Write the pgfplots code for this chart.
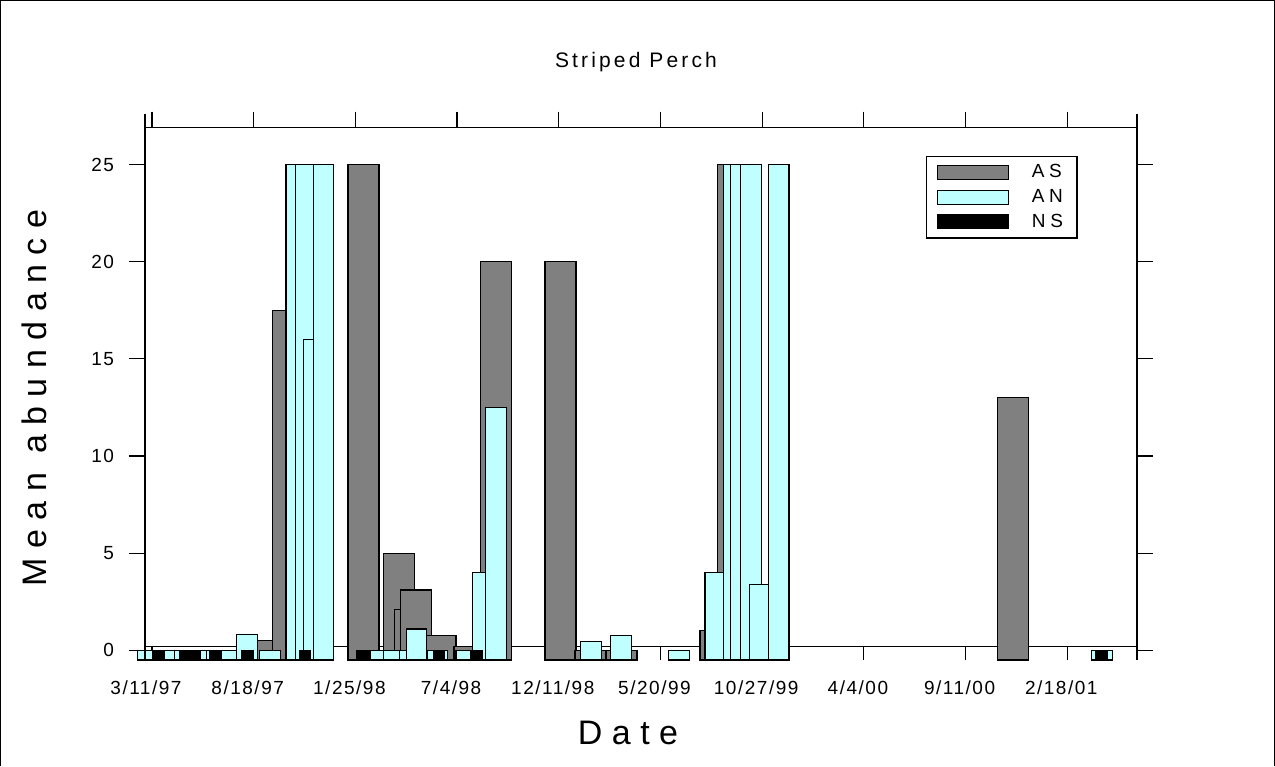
\documentclass[border=0pt]{standalone}
\usepackage{fontspec}
\setmainfont{Liberation Sans}
\newfontfamily\tickfont[LetterSpace=8]{Liberation Sans}
\newfontfamily\titlefont[LetterSpace=15]{Liberation Sans}
\newfontfamily\legfont[LetterSpace=25]{Liberation Sans}
\newfontfamily\labfont[LetterSpace=28]{Liberation Sans}
\usepackage{pgfplots}
\usepackage{pgfplotstable}
\pgfplotsset{compat=1.18}

\definecolor{asgray}{RGB}{128,128,128}
\definecolor{ancyan}{RGB}{192,255,255}

% x = days after 3/11/97, v = mean abundance
\pgfplotstableread{
d v
189.6 0.5
214.0 17.5
332.8 25
388.1 5
405.6 2.1
415.8 3.1
453.9 0.75
499.5 0.2
541.2 20
642.7 20
689.9 0
738.7 0
886.6 1.0
914.1 25
1354.6 13
}\AS

\pgfplotstableread{
d v
-6.3 0
36.2 0
51.9 0
91.3 0
102.3 0
125.9 0
149.5 0.8
185.7 0
226.9 25
242.3 25
254.1 16
270.0 25
359.0 0
380.0 0
405.1 0
416.0 1.1
448.9 0
494.3 0
520.8 4
541.2 12.5
690.7 0.45
737.9 0.75
829.1 0
886.2 4
914.9 25
926.7 25
942.4 25
956.6 3.4
986.0 25
1494.6 0
}\AN

\pgfplotstableread{
d v
9.9 0
53.3 0
66.4 0
100.5 0
150.3 0
240.7 0
331.2 0
451.5 0
510.9 0
1494.2 0
}\NS

\pgfplotsset{
    asbar/.style={ybar, bar width=48.8, bar shift=0pt, fill=asgray, draw=black, line width=0.6pt},
    anbar/.style={ybar, bar width=32.3, bar shift=0pt, fill=ancyan, draw=black, line width=0.6pt},
    nsbar/.style={ybar, bar width=18.4, bar shift=0pt, fill=black, draw=black, line width=0.6pt},
}

\begin{document}
\begin{tikzpicture}
\path (0,0) rectangle (637.5pt,383pt);
\draw[line width=0.6pt] (0.3pt,0pt) -- (0.3pt,382.7pt) -- (637.2pt,382.7pt) -- (637.2pt,0pt);
\node[font=\titlefont\fontsize{10.5}{12}\selectfont] at (318pt,352pt) {Striped Perch};
\node[font=\labfont\fontsize{17}{20}\selectfont] at (314pt,16.5pt) {Date};
\node[font=\labfont\fontsize{17}{20}\selectfont, rotate=90] at (17pt,184pt) {Mean abundance};
\begin{axis}[
    at={(72.5pt,53pt)}, anchor=south west,
    scale only axis, width=496pt, height=266.15pt,
    xmin=-11, xmax=1549.7, ymin=0, ymax=27.4,
    clip=false,
    axis line style={draw=none},
    xtick={0,160,...,1440},
    xticklabels={3/11/97,8/18/97,1/25/98,7/4/98,12/11/98,5/20/99,10/27/99,4/4/00,9/11/00,2/18/01},
    ytick={0.5,5.5,10.5,15.5,20.5,25.5},
    yticklabels={0,5,10,15,20,25},
    xtick pos=right, xticklabel pos=left,
    ytick pos=both, yticklabel pos=left,
    tick align=outside, major tick length=8pt,
    tick style={black, line width=0.6pt},
    ticklabel style={font=\tickfont\fontsize{9.5}{11}\selectfont},
    xticklabel style={yshift=1pt, xshift=-3pt},
    yticklabel style={xshift=-4pt},
    legend style={at={(0.7873,0.9468)}, anchor=north west, draw=black,
        line width=0.6pt, font=\legfont\fontsize{9.5}{11}\selectfont,
        inner xsep=5pt, inner ysep=2pt, row sep=0.2pt},
    legend cell align=left,
    legend image code/.code={\draw[#1, line width=0.6pt] (0pt,-3.5pt) rectangle (35.5pt,3.5pt); \path (45pt,0pt);},
]
\draw[line width=0.6pt] (axis cs:-11,0.7) -- (axis cs:1549.7,0.7);
\pgfplotsinvokeforeach{0,160,...,1440}{\draw[line width=0.6pt] (axis cs:#1,0.7) -- (axis cs:#1,0);}

% one plot per bar, so that later bars cover earlier ones
\pgfplotsinvokeforeach{0,...,14}{
    \addplot[asbar, forget plot, restrict expr to domain={\coordindex}{#1:#1}]
        table[x=d, y expr=\thisrow{v}+0.5] {\AS};
}
\pgfplotsinvokeforeach{0,...,29}{
    \addplot[anbar, forget plot, restrict expr to domain={\coordindex}{#1:#1}]
        table[x=d, y expr=\thisrow{v}+0.5] {\AN};
}
\pgfplotsinvokeforeach{0,...,9}{
    \addplot[nsbar, forget plot, restrict expr to domain={\coordindex}{#1:#1}]
        table[x=d, y expr=\thisrow{v}+0.5] {\NS};
}
\addlegendimage{fill=asgray, draw=black}
\addlegendentry{AS}
\addlegendimage{fill=ancyan, draw=black}
\addlegendentry{AN}
\addlegendimage{fill=black, draw=black}
\addlegendentry{NS}

\draw[line width=0.6pt] (rel axis cs:0,0) -- ([yshift=7pt]rel axis cs:0,1);
\draw[line width=0.6pt] (rel axis cs:0,1) -- (rel axis cs:1,1);
\draw[line width=0.6pt] (rel axis cs:1,0) -- ([yshift=7pt]rel axis cs:1,1);
\end{axis}
\end{tikzpicture}
\end{document}
